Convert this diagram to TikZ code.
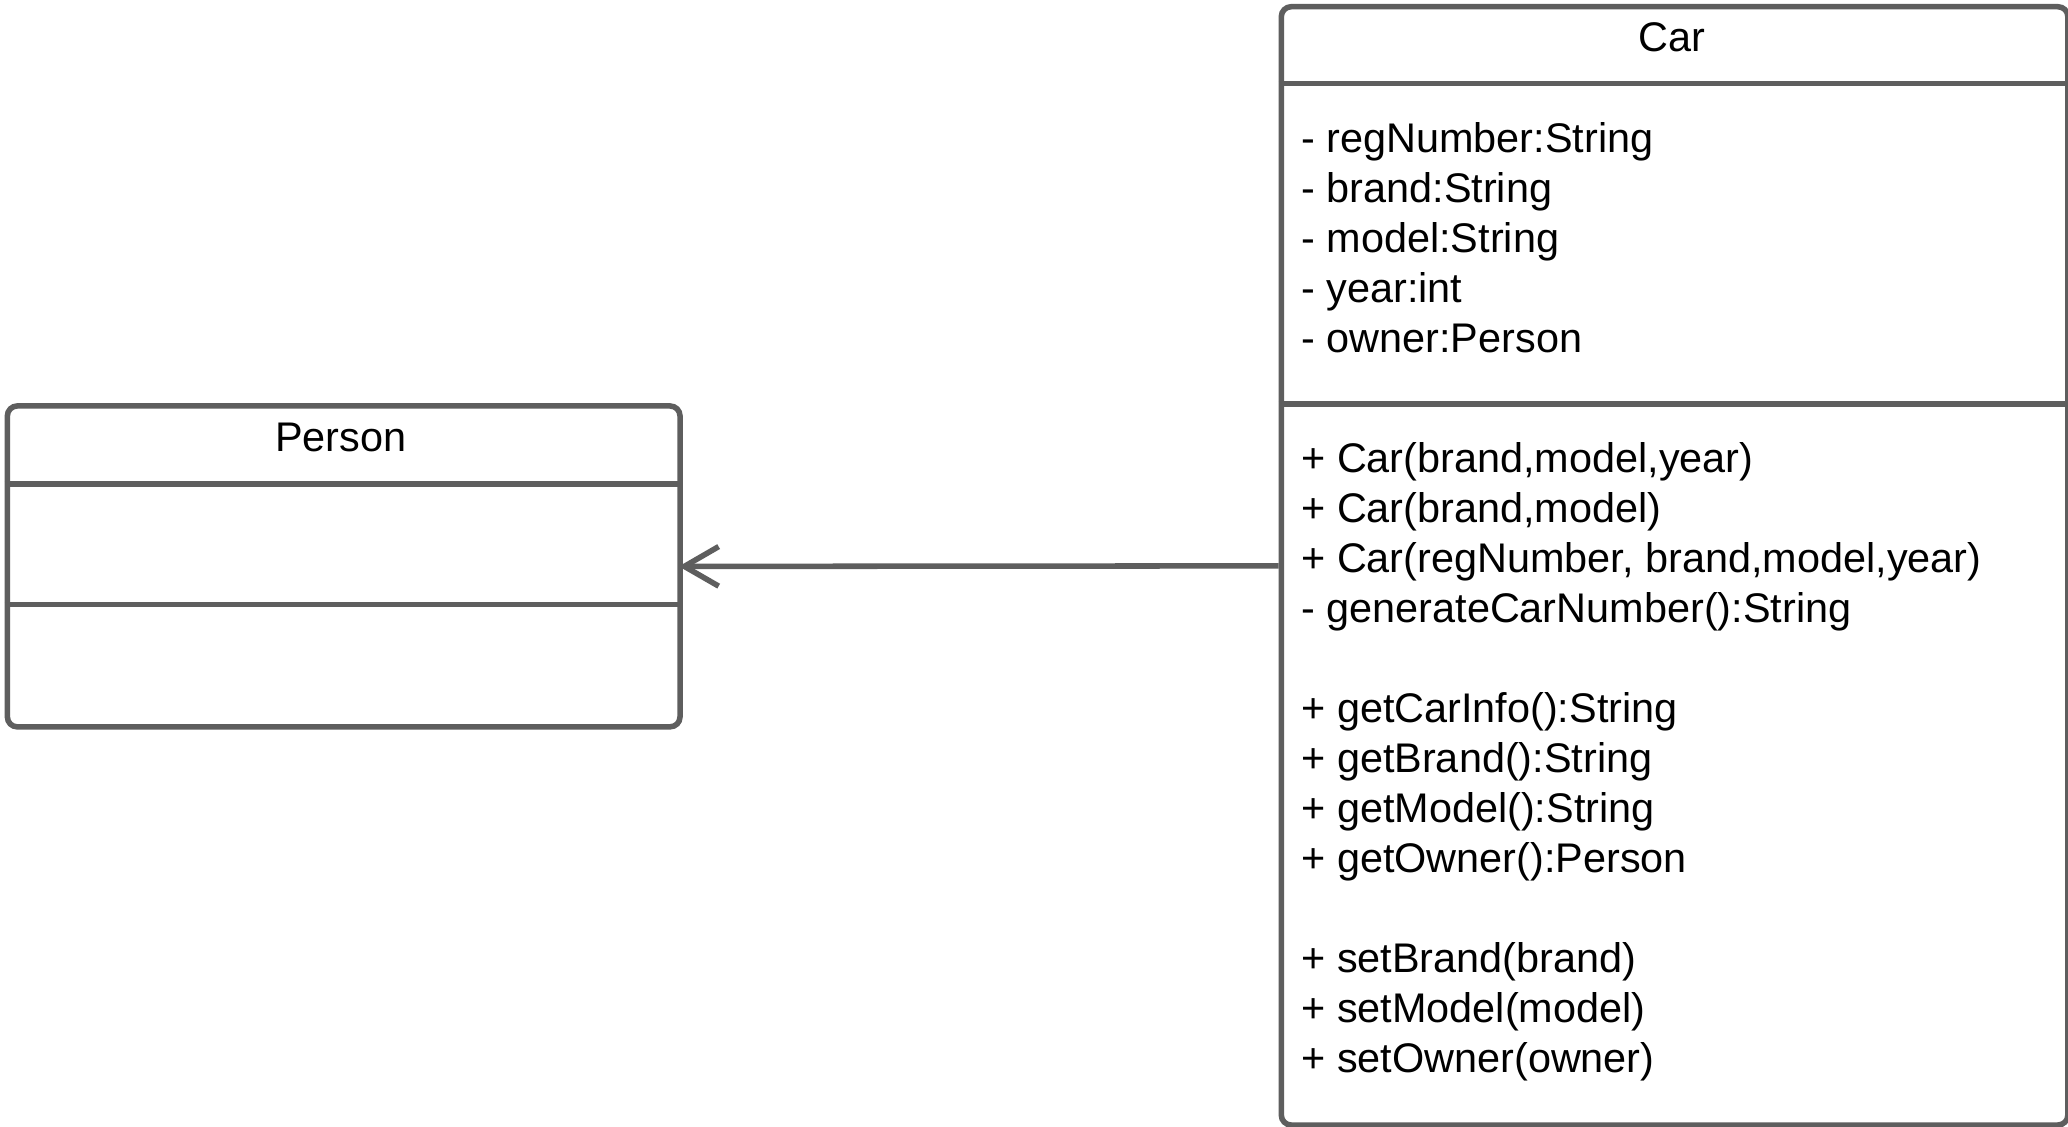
\documentclass[tikz,border=0pt]{standalone}
\usepackage{fontspec}
\setmainfont{Liberation Sans}
\usetikzlibrary{arrows.meta}
\definecolor{umlgray}{HTML}{5E5E5E}
\tikzset{
  umlbox/.style={draw=umlgray, line width=4.2pt, rounded corners=7.5pt, fill=white, inner sep=0pt, anchor=north west},
  sepline/.style={draw=umlgray, line width=4.2pt},
  umltext/.style={font=\fontsize{31.4pt}{37.9pt}\selectfont, inner sep=0pt, text=black},
  assoc/.style={draw=umlgray, line width=4.2pt, -{Straight Barb[length=26pt, width=30pt]}}
}
\begin{document}
\begin{tikzpicture}[x=1pt,y=-1pt]
\useasboundingbox (0,0) rectangle (1568,854.5);
% Person class
\node[umlbox, minimum width=510pt, minimum height=243.3pt] (person) at (3.5,305.7) {};
\node[umltext, anchor=base] (ptitle) at (258.5,342.7) {Person};
\draw[sepline] (person.west |- 0,367) -- (person.east |- 0,367);
\draw[sepline] (person.west |- 0,458.5) -- (person.east |- 0,458.5);
% Car class
\node[umlbox, minimum width=596.4pt, minimum height=847.9pt] (car) at (969.4,3) {};
\node[umltext, anchor=base] (ctitle) at (1267.6,39) {Car};
\draw[sepline] (car.west |- 0,63.2) -- (car.east |- 0,63.2);
\draw[sepline] (car.west |- 0,306.5) -- (car.east |- 0,306.5);
% attributes
\foreach \t [count=\i from 0] in {{- regNumber:String},{- brand:String},{- model:String},{- year:int},{- owner:Person}}
  \node[umltext, anchor=base west] (attr\i) at (986.5,115.8+37.9*\i) {\t};
% operations
\foreach \k/\t in {0/{+ Car(brand,model,year)},1/{+ Car(brand,model)},2/{+ Car(regNumber, brand,model,year)},3/{- generateCarNumber():String},
  5/{+ getCarInfo():String},6/{+ getBrand():String},7/{+ getModel():String},8/{+ getOwner():Person},
  10/{+ setBrand(brand)},11/{+ setModel(model)},12/{+ setOwner(owner)}}
  \node[umltext, anchor=base west] (op\k) at (986.5,358.4+37.9*\k) {\t};
% association
\draw[assoc, shorten >=-3pt] (car.west) -- (person.east);
\end{tikzpicture}
\end{document}
